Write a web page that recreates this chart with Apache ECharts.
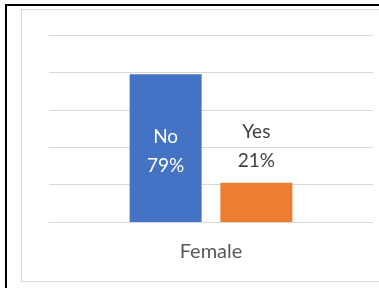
<!DOCTYPE html>
<html>
<head>
<meta charset="utf-8">
<script src="https://cdn.jsdelivr.net/npm/echarts@6/dist/echarts.min.js"></script>
<style>
  html, body { margin: 0; padding: 0; background: #fff; }
  #wrap { position: relative; width: 379px; height: 288px; overflow: hidden; }
  #chart { position: absolute; left: 0; top: 0; width: 379px; height: 288px; }
  /* table cell borders around the pasted chart */
  .cellTop { position: absolute; left: 5px; top: 4px; width: 374px; height: 2px; background: #000; }
  .cellLeft { position: absolute; left: 5px; top: 4px; width: 2px; height: 284px; background: #000; }
  /* light frame of the chart area */
  .frame { position: absolute; left: 21px; top: 9px; width: 400px; height: 271px; border: 1px solid #d9d9d9; pointer-events: none; }
</style>
</head>
<body>
<div id="wrap">
  <div class="frame"></div>
  <div id="chart"></div>
  <div class="cellTop"></div>
  <div class="cellLeft"></div>
</div>
<script>
// 数据
const categories = ['Female'];
const seriesNames = ['No', 'Yes'];
const seriesValues = [79, 21];
const seriesColors = ['#4472C4', '#ED7D31'];

const chart = echarts.init(document.getElementById('chart'), null, { renderer: 'canvas' });

const fontFamily = 'Lato, "Open Sans", sans-serif';

const series = seriesNames.map((name, i) => {
  const inside = i === 0;
  return {
    name: name,
    type: 'bar',
    data: [seriesValues[i]],
    barWidth: 72,
    barGap: '26%',
    itemStyle: { color: seriesColors[i] },
    label: {
      show: true,
      position: inside ? 'inside' : 'top',
      distance: 7,
      offset: inside ? [0, 3] : [0, 0],
      formatter: '{a}\n{c}%',
      color: inside ? '#ffffff' : '#404040',
      fontSize: 19,
      lineHeight: 29,
      fontFamily: fontFamily
    }
  };
});

const option = {
  animation: false,
  grid: { left: 49, top: 35, width: 324, height: 187, containLabel: false },
  xAxis: {
    type: 'category',
    data: categories,
    axisLine: { show: true, lineStyle: { color: '#d9d9d9', width: 1 } },
    axisTick: { show: false },
    axisLabel: { color: '#595959', fontSize: 20, fontFamily: fontFamily, margin: 20 }
  },
  yAxis: {
    type: 'value',
    min: 0,
    max: 100,
    interval: 20,
    axisLine: { show: false },
    axisTick: { show: false },
    axisLabel: { show: false },
    splitLine: { lineStyle: { color: '#d9d9d9', width: 1 } }
  },
  series: series
};

chart.setOption(option);
</script>
</body>
</html>
